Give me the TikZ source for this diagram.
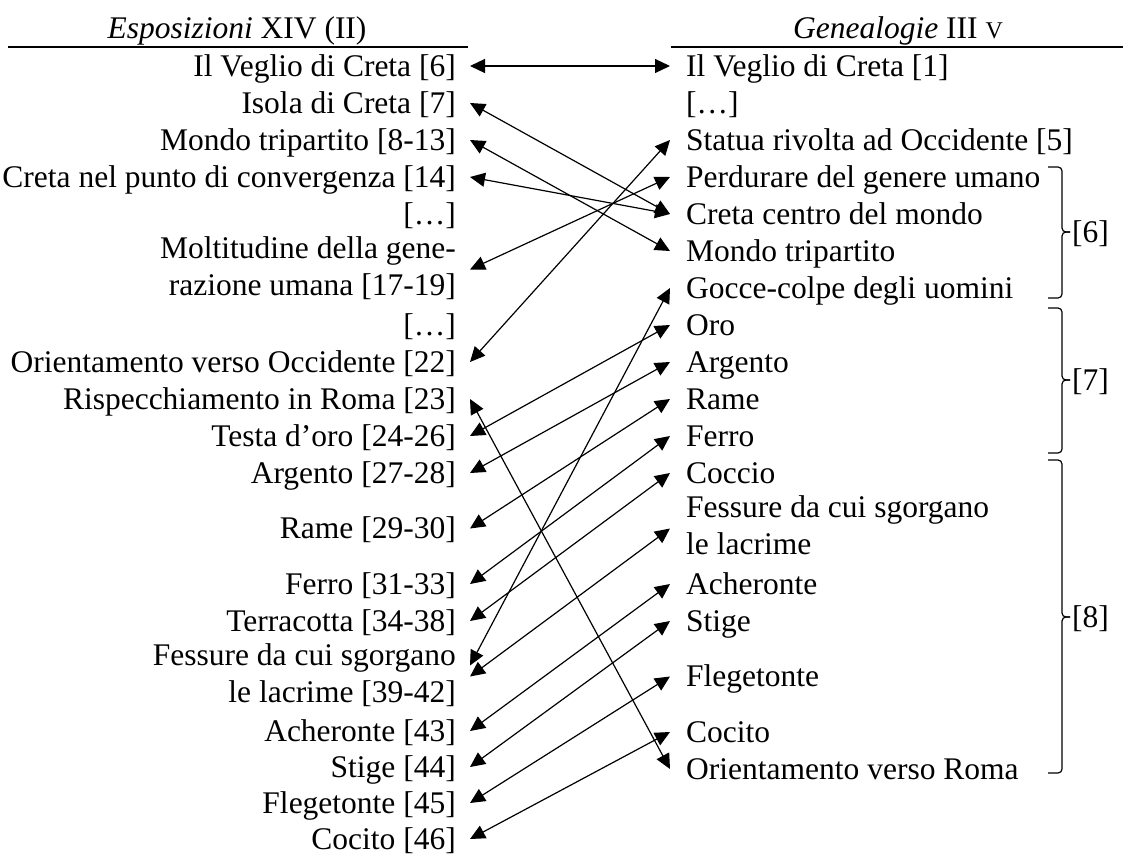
\documentclass[tikz,border=0pt]{standalone}
\usepackage{fontspec}
\setmainfont{Liberation Serif}
\usetikzlibrary{arrows.meta}

\newcommand{\rowstrut}{\rule[-0.24em]{0pt}{1.14em}}

\tikzset{
  lft/.style={anchor=east, inner xsep=14pt, inner ysep=0pt, align=right,
    font=\fontsize{31.5}{37}\selectfont,
    execute at begin node=\rowstrut, execute at end node=\rowstrut},
  rgt/.style={anchor=west, inner xsep=16pt, inner ysep=0pt, align=left,
    font=\fontsize{31.5}{37}\selectfont,
    execute at begin node=\rowstrut, execute at end node=\rowstrut},
  head/.style={anchor=base, inner sep=0pt, font=\fontsize{31.5}{37}\selectfont},
  lab/.style={anchor=west, inner sep=0pt, font=\fontsize{31.5}{37}\selectfont},
  rule/.style={line width=1.8pt},
  link/.style={{Triangle[length=15pt,width=14pt]}-{Triangle[length=15pt,width=14pt]}, line width=1.2pt},
  brc/.style={line width=1.2pt, rounded corners=4pt}
}

\begin{document}
\begin{tikzpicture}[x=1pt, y=-1pt]
        \useasboundingbox (0,0) rectangle (1123,854);
        % headings
        \node[head] (hl) at (237,38) {\textit{Esposizioni} XIV (II)};
        \node[head] (hr) at (898,38) {\textit{Genealogie} III {\fontsize{24}{24}\selectfont V}};
        \draw[rule] (8,47) -- (468,47);
        \draw[rule] (671,47) -- (1123,47);
        % Esposizioni
        \node[lft] (l1) at (470,66) {Il Veglio di Creta [6]};
        \node[lft] (l2) at (470,103) {Isola di Creta [7]};
        \node[lft] (l3) at (470,140) {Mondo tripartito [8-13]};
        \node[lft] (l4) at (470,177) {Creta nel punto di convergenza [14]};
        \node[lft] (l5) at (470,214) {[…]};
        \node[lft] (l6) at (470,269.5) {Moltitudine della gene-\\razione umana [17-19]};
        \node[lft] (l7) at (470,325) {[…]};
        \node[lft] (l8) at (470,362) {Orientamento verso Occidente [22]};
        \node[lft] (l9) at (470,399) {Rispecchiamento in Roma [23]};
        \node[lft] (l10) at (470,436) {Testa d’oro [24-26]};
        \node[lft] (l11) at (470,473) {Argento [27-28]};
        \node[lft] (l12) at (470,528.5) {Rame [29-30]};
        \node[lft] (l13) at (470,584) {Ferro [31-33]};
        \node[lft] (l14) at (470,621) {Terracotta [34-38]};
        \node[lft] (l15) at (470,676.5) {Fessure da cui sgorgano\\le lacrime [39-42]};
        \node[lft] (l16) at (470,731) {Acheronte [43]};
        \node[lft] (l17) at (470,767) {Stige [44]};
        \node[lft] (l18) at (470,803) {Flegetonte [45]};
        \node[lft] (l19) at (470,839) {Cocito [46]};
        % Genealogie
        \node[rgt] (r1) at (670,66) {Il Veglio di Creta [1]};
        \node[rgt] (r2) at (670,103) {[…]};
        \node[rgt] (r3) at (670,140) {Statua rivolta ad Occidente [5]};
        \node[rgt] (r4) at (670,177) {Perdurare del genere umano};
        \node[rgt] (r5) at (670,214) {Creta centro del mondo};
        \node[rgt] (r6) at (670,251) {Mondo tripartito};
        \node[rgt] (r7) at (670,288) {Gocce-colpe degli uomini};
        \node[rgt] (r8) at (670,325) {Oro};
        \node[rgt] (r9) at (670,362) {Argento};
        \node[rgt] (r10) at (670,399) {Rame};
        \node[rgt] (r11) at (670,436) {Ferro};
        \node[rgt] (r12) at (670,473) {Coccio};
        \node[rgt] (r13) at (670,528.5) {Fessure da cui sgorgano\\le lacrime};
        \node[rgt] (r14) at (670,584) {Acheronte};
        \node[rgt] (r15) at (670,621) {Stige};
        \node[rgt] (r16) at (670,676.5) {Flegetonte};
        \node[rgt] (r17) at (670,732) {Cocito};
        \node[rgt] (r18) at (670,769) {Orientamento verso Roma};
        % braces
        \draw[brc] (1048,167) -- (1062,167) -- (1062,232) -- (1070,232);
        \draw[brc] (1070,232) -- (1062,232) -- (1062,298) -- (1048,298);
        \draw[brc] (1048,308) -- (1062,308) -- (1062,380) -- (1070,380);
        \draw[brc] (1070,380) -- (1062,380) -- (1062,453) -- (1048,453);
        \draw[brc] (1048,460) -- (1062,460) -- (1062,617) -- (1070,617);
        \draw[brc] (1070,617) -- (1062,617) -- (1062,773) -- (1048,773);
        \node[lab] (k6) at (1072,234) {[6]};
        \node[lab] (k7) at (1072,382) {[7]};
        \node[lab] (k8) at (1072,619) {[8]};
        % links
        \draw[link] (l1.east) -- (r1.west);
        \draw[link] (l2.east) -- (r5.west);
        \draw[link] (l3.east) -- (r6.west);
        \draw[link] (l4.east) -- (r5.west);
        \draw[link] (l6.east) -- (r4.west);
        \draw[link] (l8.east) -- (r3.west);
        \draw[link] (l9.east) -- (r18.west);
        \draw[link] (l10.east) -- (r8.west);
        \draw[link] (l11.east) -- (r9.west);
        \draw[link] (l12.east) -- (r10.west);
        \draw[link] (l13.east) -- (r11.west);
        \draw[link] (l14.east) -- (r12.west);
        \draw[link] ([yshift=11pt]l15.east) -- (r7.west);
        \draw[link] (l15.east) -- (r13.west);
        \draw[link] (l16.east) -- (r14.west);
        \draw[link] (l17.east) -- (r15.west);
        \draw[link] (l18.east) -- (r16.west);
        \draw[link] (l19.east) -- (r17.west);
\end{tikzpicture}
\end{document}
